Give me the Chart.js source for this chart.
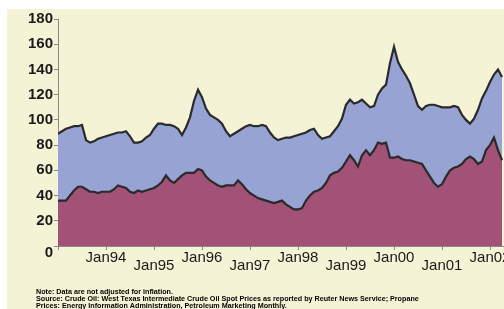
<!DOCTYPE html>
<html>
<head>
<meta charset="utf-8">
<script src="https://cdn.jsdelivr.net/npm/chart.js@4/dist/chart.umd.min.js"></script>
<style>
  body { margin: 0; background: #fff; }
  canvas { display: block; }
</style>
</head>
<body>
<canvas id="prices" width="504" height="309"></canvas>
<script>
// months counted from Jan93 (0) to Apr02 (111)
var months = [];
for (var i = 0; i < 112; i++) months.push(i);

// propane residential price, cents per gallon (top line)
var propane = [
  89, 91, 93, 94, 95, 95, 96, 84, 82, 83, 85, 86,
  87, 88, 89, 90, 90, 91, 87, 82, 82, 83, 86, 88,
  93, 97, 97, 96, 96, 95, 93, 88, 94, 102, 115, 124,
  118, 109, 104, 102, 100, 97, 91, 87, 89, 91, 93, 95,
  96, 95, 95, 96, 95, 90, 86, 84, 85, 86, 86, 87,
  88, 89, 90, 92, 93, 88, 85, 86, 87, 91, 95, 101,
  112, 116, 113, 114, 116, 113, 110, 111, 120, 125, 128, 145,
  158, 146, 140, 135, 129, 120, 111, 108, 111, 112, 112, 111,
  110, 110, 110, 111, 110, 104, 100, 97, 101, 108, 117, 123,
  130, 136, 140, 134
];

// crude oil spot price, cents per gallon (bottom line)
var crude = [
  36, 36, 36, 40, 44, 47, 47, 45, 43, 43, 42, 43,
  43, 43, 45, 48, 47, 46, 43, 42, 44, 43, 44, 45,
  46, 48, 51, 56, 52, 50, 53, 56, 58, 58, 58, 61,
  60, 55, 52, 50, 48, 47, 48, 48, 48, 52, 49, 45,
  42, 40, 38, 37, 36, 35, 34, 35, 36, 33, 31, 29,
  29, 30, 36, 40, 43, 44, 46, 50, 56, 58, 59, 62,
  67, 72, 68, 63, 72, 76, 72, 76, 82, 81, 82, 70,
  70, 71, 69, 68, 68, 67, 66, 65, 60, 55, 50, 47,
  49, 55, 60, 62, 63, 65, 69, 71, 69, 65, 67, 76,
  80, 86, 76, 68
];

var xTickMonths = [12, 24, 36, 48, 60, 72, 84, 96, 108];
var xLabels = ['Jan94', 'Jan95', 'Jan96', 'Jan97', 'Jan98', 'Jan99', 'Jan00', 'Jan01', 'Jan02'];
var yTicks = [0, 20, 40, 60, 80, 100, 120, 140, 160, 180];
var notes = [
  'Note: Data are not adjusted for inflation.',
  'Source: Crude Oil: West Texas Intermediate Crude Oil Spot Prices as reported by Reuter News Service; Propane',
  'Prices: Energy Information Administration, Petroleum Marketing Monthly.'
];

var paper = {
  id: 'paper',
  beforeDraw: function (chart) {
    var c = chart.ctx;
    c.save();
    c.fillStyle = '#f5f3d5';
    c.fillRect(7, 9, chart.width - 7, chart.height - 9);
    c.restore();
  },
  afterDraw: function (chart) {
    var c = chart.ctx;
    var xs = chart.scales.x, ys = chart.scales.y;
    var base = ys.getPixelForValue(0);
    c.save();
    c.fillStyle = '#1a1a1a';

    // y labels (the 0 sits a bit lower, like the original)
    c.font = 'bold 15px "Liberation Sans", Arial, sans-serif';
    c.textAlign = 'right';
    c.textBaseline = 'middle';
    yTicks.forEach(function (v) {
      var y = ys.getPixelForValue(v) + (v === 0 ? 7 : 0);
      c.fillText(String(v), 53, y);
    });

    // staggered x labels
    c.font = '15px "Liberation Sans", Arial, sans-serif';
    c.textAlign = 'center';
    xLabels.forEach(function (lab, i) {
      var x = xs.getPixelForValue(xTickMonths[i]);
      c.fillText(lab, x, base + (i % 2 === 0 ? 12 : 20));
    });

    // notes
    c.fillStyle = '#000';
    c.font = 'bold 7.2px "Liberation Sans", Arial, sans-serif';
    c.textAlign = 'left';
    notes.forEach(function (t, i) {
      c.fillText(t, 36, 292 + i * 7);
    });
    c.restore();
  }
};

var ctx = document.getElementById('prices').getContext('2d');
var chart = new Chart(ctx, {
  type: 'line',
  data: {
    labels: months,
    datasets: [{
      label: 'Crude Oil',
      data: crude,
      borderColor: '#2a2a2a',
      backgroundColor: '#a15276',
      borderWidth: 2.2,
      pointRadius: 0,
      tension: 0,
      fill: 'origin'
    }, {
      label: 'Propane',
      data: propane,
      borderColor: '#2a2a2a',
      backgroundColor: '#97a3d2',
      borderWidth: 2.2,
      pointRadius: 0,
      tension: 0,
      fill: '-1'
    }]
  },
  options: {
    responsive: false,
    animation: false,
    devicePixelRatio: 1,
    layout: { padding: { top: 19, left: 0, right: 0, bottom: 0 } },
    plugins: { legend: { display: false }, tooltip: { enabled: false } },
    scales: {
      x: {
        type: 'linear',
        min: 0,
        max: 111.5,
        afterFit: function (s) { s.height = 63; },
        afterBuildTicks: function (s) {
          s.ticks = [0].concat(xTickMonths).map(function (v) { return { value: v }; });
        },
        ticks: { display: false },
        grid: { drawOnChartArea: false, tickLength: 4, color: '#8a8a8a' },
        border: { color: '#8a8a8a', width: 1 }
      },
      y: {
        min: 0,
        max: 180,
        afterFit: function (s) { s.width = 58; },
        afterBuildTicks: function (s) {
          s.ticks = yTicks.map(function (v) { return { value: v }; });
        },
        ticks: { display: false },
        grid: { drawOnChartArea: false, tickLength: 4, color: '#8a8a8a' },
        border: { color: '#8a8a8a', width: 1 }
      }
    }
  },
  plugins: [paper]
});
</script>
</body>
</html>
